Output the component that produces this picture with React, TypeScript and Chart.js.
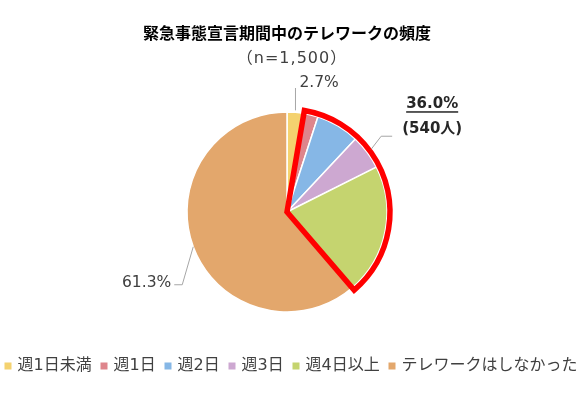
import React, { useEffect, useRef } from "react";
import { Chart, registerables } from "chart.js";

Chart.register(...registerables);

const titleText = "緊急事態宣言期間中のテレワークの頻度";
const subtitleText = "（n=1,500）";
const categories = ["週1日未満", "週1日", "週2日", "週3日", "週4日以上", "テレワークはしなかった"];
const shares = [2.7, 2.3, 7.0, 5.6, 21.1, 61.3];
const colors = ["#F4D26F", "#DE858C", "#86B7E6", "#CDA8D1", "#C5D46F", "#E3A76C"];
const highlightFrom = 1;
const highlightTo = 4;
const highlightShare = "36.0%";
const highlightCount = "(540人)";

const FONT_LATIN = "'DejaVu Sans', 'Noto Sans CJK JP', sans-serif";
const FONT_CJK = "'Noto Sans CJK JP', sans-serif";

const overlayPlugin = {
  id: "overlay",
  afterDatasetsDraw(chart: any) {
    const ctx = chart.ctx as CanvasRenderingContext2D;
    const arcs = chart.getDatasetMeta(0).data as any[];
    const cx = arcs[0].x;
    const cy = arcs[0].y;
    const r = arcs[0].outerRadius;
    const pt = (ang: number, rad: number) => [cx + rad * Math.cos(ang), cy + rad * Math.sin(ang)];
    const mid = (a: any) => (a.startAngle + a.endAngle) / 2;

    ctx.save();
    // red highlight outline
    const s = arcs[highlightFrom].startAngle;
    const e = arcs[highlightTo].endAngle;
    ctx.beginPath();
    ctx.moveTo(cx, cy);
    ctx.arc(cx, cy, r + 3, s, e);
    ctx.closePath();
    ctx.strokeStyle = "#FF0000";
    ctx.lineWidth = 5.5;
    ctx.lineJoin = "miter";
    ctx.stroke();

    // leader lines
    ctx.strokeStyle = "#A6A6A6";
    ctx.lineWidth = 1;
    ctx.lineJoin = "round";

    const [x0, y0] = pt(mid(arcs[0]), r);
    ctx.beginPath();
    ctx.moveTo(x0, y0 - 2);
    ctx.lineTo(x0, cy - r - 24);
    ctx.stroke();

    const last = arcs.length - 1;
    const [x5, y5] = pt(mid(arcs[last]), r);
    ctx.beginPath();
    ctx.moveTo(x5, y5);
    ctx.lineTo(x5 - 11, y5 + 38);
    ctx.lineTo(x5 - 19, y5 + 38);
    ctx.stroke();

    const [x3, y3] = pt(mid(arcs[3]), r + 5);
    ctx.beginPath();
    ctx.moveTo(x3, y3);
    ctx.lineTo(x3 + 10, y3 - 13);
    ctx.lineTo(x3 + 21, y3 - 13);
    ctx.stroke();

    // value labels
    ctx.fillStyle = "#404040";
    ctx.textBaseline = "middle";
    ctx.font = `15.5px ${FONT_LATIN}`;
    ctx.textAlign = "left";
    ctx.fillText(shares[0].toFixed(1) + "%", x0 + 4, cy - r - 29);
    ctx.textAlign = "right";
    ctx.fillText(shares[last].toFixed(1) + "%", x5 - 22, y5 + 36);

    ctx.fillStyle = "#262626";
    ctx.textAlign = "center";
    ctx.font = `bold 15px ${FONT_LATIN}`;
    const hx = x3 + 61;
    const hy = y3 - 45;
    ctx.fillText(highlightShare, hx, hy);
    const w = ctx.measureText(highlightShare).width;
    ctx.fillRect(hx - w / 2, hy + 7, w, 1.5);
    ctx.fillText(highlightCount, hx, hy + 24.5);
    ctx.restore();
  },
  afterDraw(chart: any) {
    const ctx = chart.ctx as CanvasRenderingContext2D;
    ctx.save();
    ctx.textBaseline = "middle";
    ctx.textAlign = "center";
    ctx.fillStyle = "#000000";
    ctx.font = `bold 16px ${FONT_CJK}`;
    ctx.fillText(titleText, 287, 32.5);
    ctx.fillStyle = "#404040";
    ctx.font = `16px ${FONT_LATIN}`;
    try { (ctx as any).letterSpacing = "1px"; } catch (e) {}
    ctx.fillText(subtitleText, 292, 59);
    try { (ctx as any).letterSpacing = "0px"; } catch (e) {}

    // legend
    ctx.font = `16px ${FONT_LATIN}`;
    ctx.textAlign = "left";
    const box = 7;
    const boxGap = 6;
    const widths = categories.map((c) => box + boxGap + ctx.measureText(c).width);
    const total = 573;
    const gap = (total - widths.reduce((a, b) => a + b, 0)) / (categories.length - 1);
    let x = 291 - total / 2;
    const y = 366;
    categories.forEach((c, i) => {
      ctx.fillStyle = colors[i];
      ctx.fillRect(x, y - box / 2, box, box);
      ctx.fillStyle = "#404040";
      ctx.fillText(c, x + box + boxGap, y);
      x += widths[i] + gap;
    });
    ctx.restore();
  },
};

export default function App() {
  const ref = useRef<HTMLCanvasElement | null>(null);
  useEffect(() => {
    document.body.style.margin = "0";
    const canvas = ref.current!;
    const chart = new Chart(canvas, {
      type: "doughnut",
      data: {
        labels: categories,
        datasets: [
          {
            data: shares,
            backgroundColor: colors,
            borderColor: "#FFFFFF",
            borderWidth: 1.5,
            radius: 100,
            cutout: 0,
          } as any,
        ],
      },
      options: {
        responsive: false,
        animation: false,
        devicePixelRatio: 1,
        layout: { padding: { left: 0, right: 8, top: 60, bottom: 29 } },
        plugins: {
          legend: { display: false },
          tooltip: { enabled: false },
          title: { display: false },
        },
      } as any,
      plugins: [overlayPlugin],
    });
    return () => chart.destroy();
  }, []);
  return (
    <div style={{ width: 582, height: 393, background: "#FFFFFF" }}>
      <canvas ref={ref} width={582} height={393} />
    </div>
  );
}
